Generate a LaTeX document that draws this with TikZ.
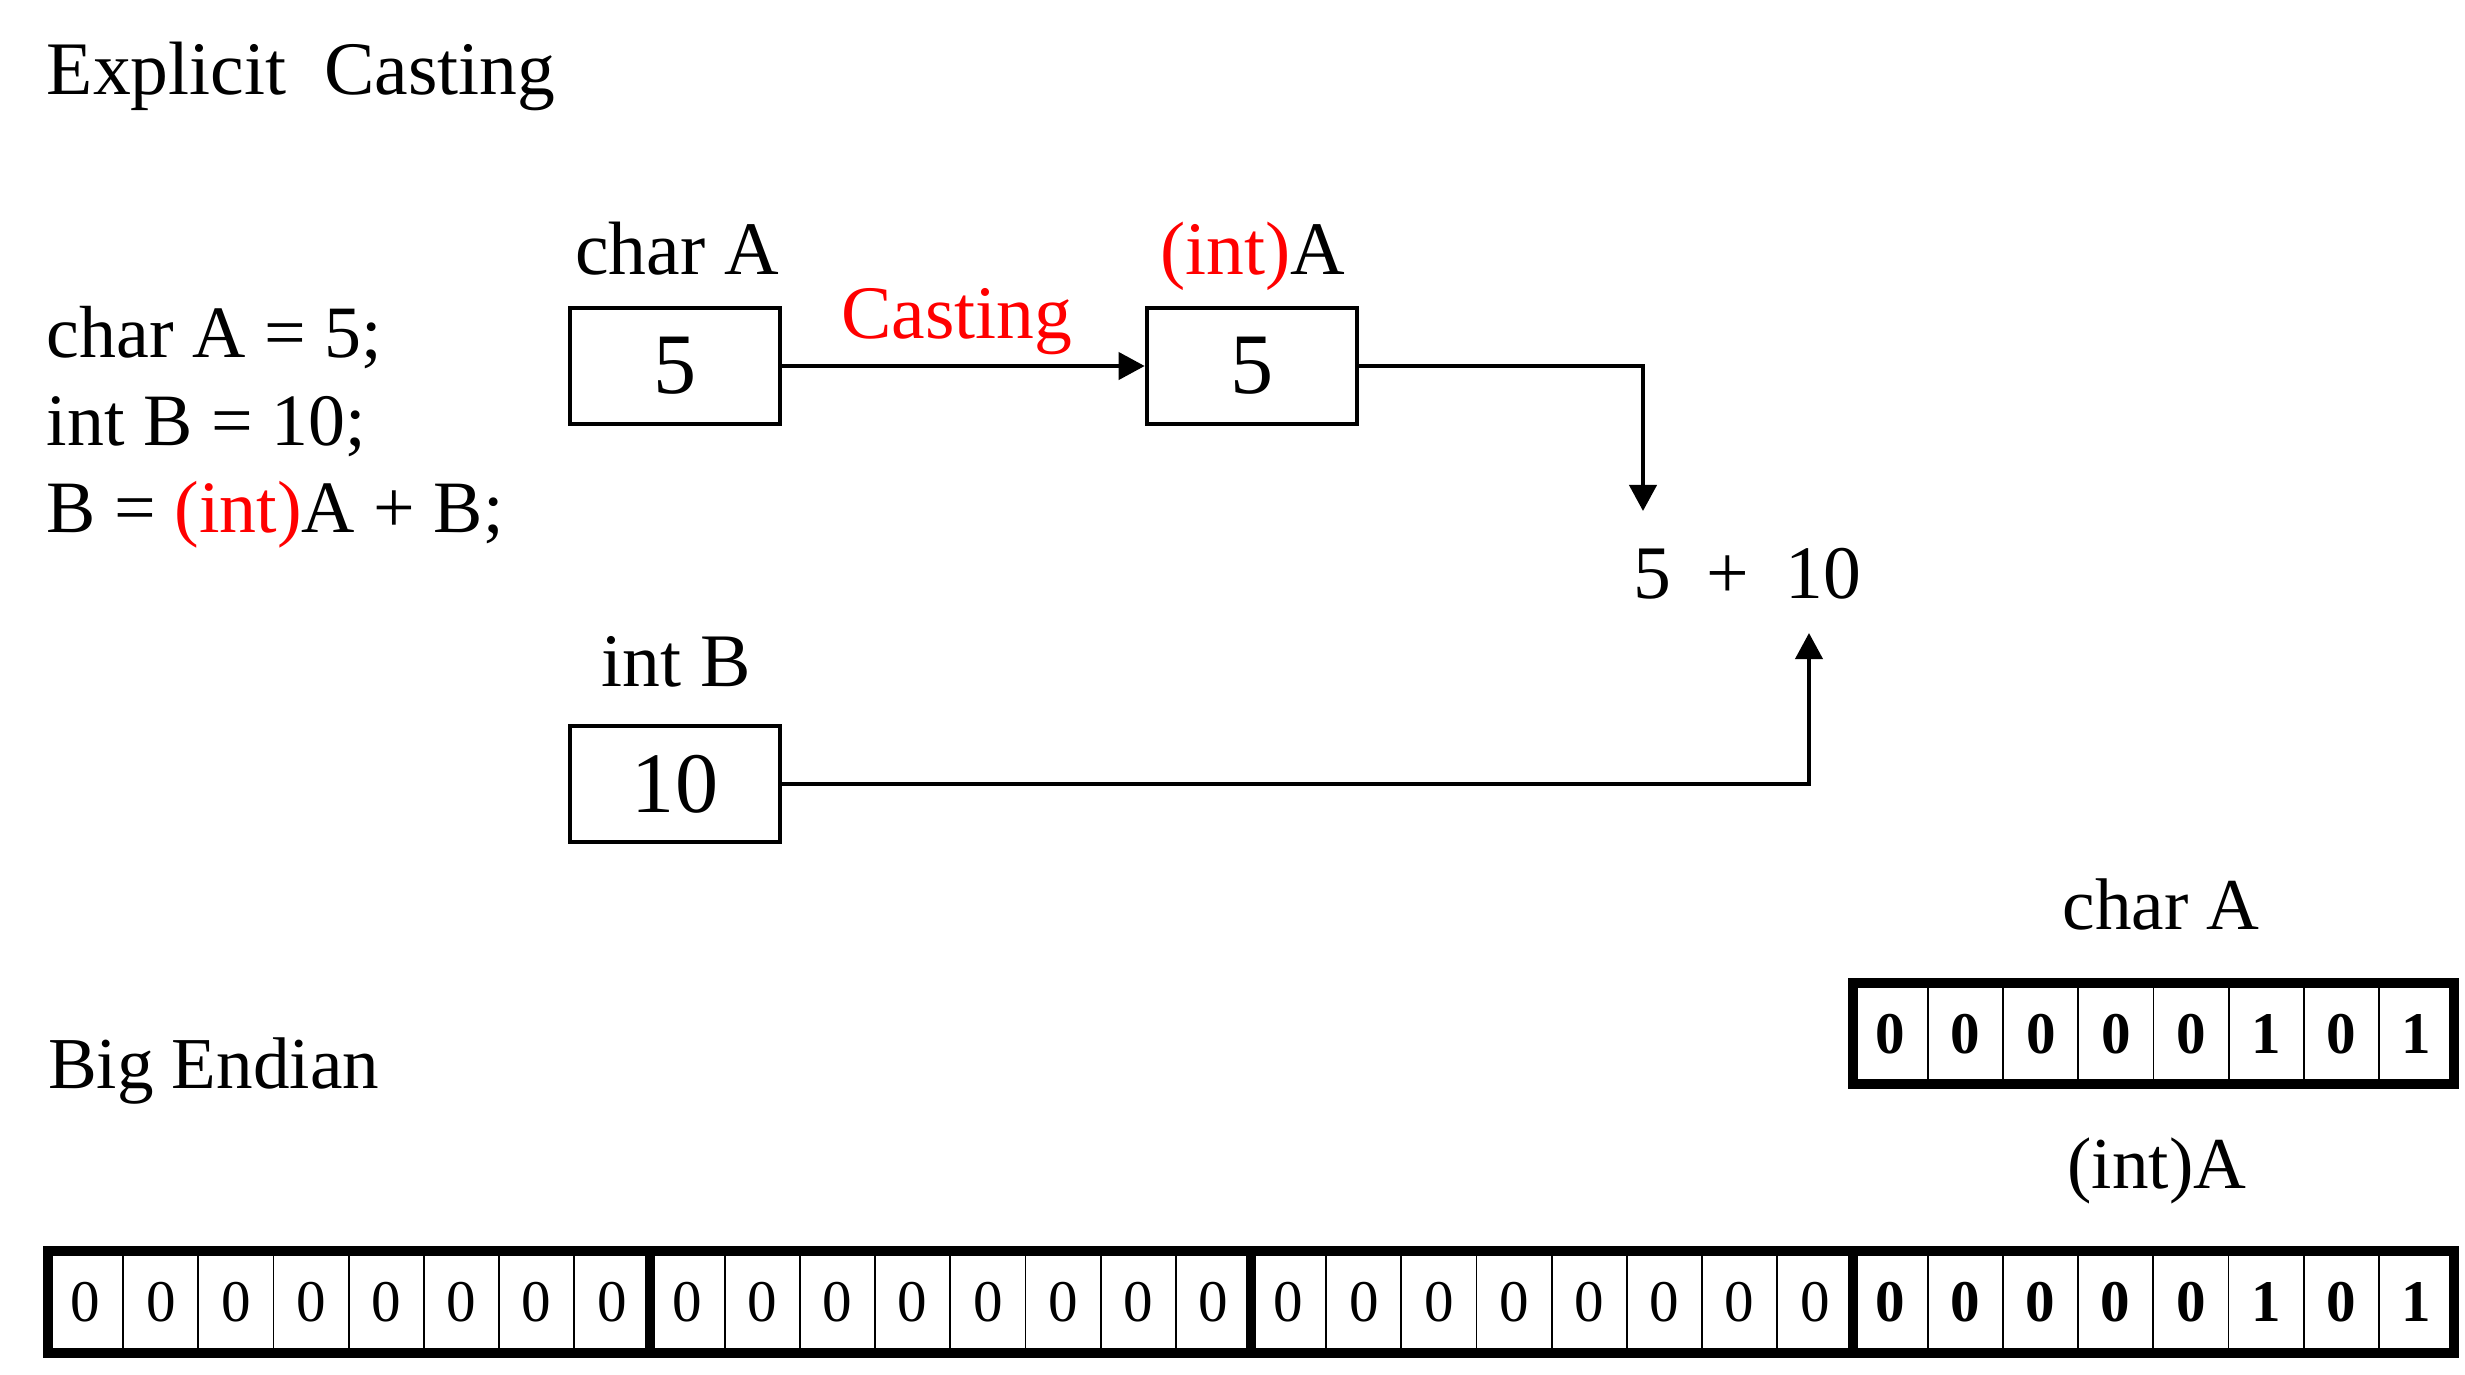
\documentclass[tikz,border=0pt]{standalone}
\usepackage{fontspec}
\setmainfont{Liberation Serif}
\usetikzlibrary{arrows.meta}
\definecolor{castred}{RGB}{255,0,0}
\begin{document}
\begin{tikzpicture}[x=0.01cm,y=-0.01cm,
  txt/.style={inner sep=0,outer sep=0,font=\fontsize{21.5pt}{26pt}\selectfont},
  codetxt/.style={inner sep=0,outer sep=0,font=\fontsize{21pt}{26pt}\selectfont},
  smalltxt/.style={inner sep=0,outer sep=0,font=\fontsize{20.8pt}{25pt}\selectfont},
  valbox/.style={draw,line width=0.045cm,minimum width=2.1cm,minimum height=1.16cm,inner sep=0,font=\fontsize{24.5pt}{28pt}\selectfont},
  conn/.style={line width=0.04cm,-{Triangle[length=0.26cm,width=0.27cm]}},
  bitreg/.style={inner sep=0,outer sep=0,font=\fontsize{16.8pt}{18pt}\selectfont},
  bitbold/.style={inner sep=0,outer sep=0,font=\fontsize{16.8pt}{18pt}\selectfont\bfseries},
  thinsep/.style={line width=0.018cm,black},
  thicksep/.style={line width=0.1cm,black}
]
\useasboundingbox (0,0) rectangle (2465,1375);

% titles and code
\node[txt,anchor=base west] (title) at (47,94) {Explicit\ \ Casting};
\node[codetxt,anchor=base west] (code1) at (47,357) {char A = 5;};
\node[codetxt,anchor=base west] (code2) at (47,445) {int B = 10;};
\node[codetxt,anchor=base west] (code3) at (47,532) {B = \textcolor{castred}{(int)}A + B;};

% value boxes
\node[valbox] (cA) at (675,366) {5};
\node[valbox] (iA) at (1252,366) {5};
\node[valbox] (iB) at (675,784) {10};

\node[txt,anchor=base] (lcA) at (677,274) {char A};
\node[txt,anchor=base] (liA) at (1253,274) {\textcolor{castred}{(int)}A};
\node[txt,anchor=base] (liB) at (676,686) {int B};
\node[txt,anchor=base,text=castred] (cast) at (957,338) {Casting};

\node[txt,anchor=base west] (sum) at (1633,598) {5\hspace{0.36cm}+\hspace{0.36cm}10};

\coordinate (t1) at (1643,511);
\coordinate (t2) at (1809,633);
\draw[conn] (cA.east) -- (iA.west);
\draw[conn] (iA.east) -| (t1);
\draw[conn] (iB.east) -| (t2);

% Big Endian
\node[smalltxt,anchor=base west] (big) at (48,1088) {Big Endian};
\node[smalltxt,anchor=base] (lcA2) at (2161,929) {char A};
\node[smalltxt,anchor=base] (liA2) at (2157,1188) {(int)A};

% char A byte
\foreach \k in {1,...,7}
  \draw[thinsep] ({1853+\k*75.125},983) -- ({1853+\k*75.125},1084);
\draw[thicksep] (1853,983) rectangle (2454,1084);
\foreach \v [count=\i] in {0,0,0,0,0,1,0,1}
  \node[bitbold] (c\i) at ({1853+(\i-0.5)*75.125},1034) {\v};

% int bytes
\foreach \k in {1,...,31}
  \draw[thinsep] ({48+\k*75.1875},1251) -- ({48+\k*75.1875},1353);
\foreach \k in {8,16,24}
  \draw[thicksep] ({48+\k*75.1875},1251) -- ({48+\k*75.1875},1353);
\draw[thicksep] (48,1251) rectangle (2454,1353);
\foreach \i in {1,...,24}
  \node[bitreg] (r\i) at ({48+(\i-0.5)*75.1875},1302) {0};
\foreach \v [count=\i from 25] in {0,0,0,0,0,1,0,1}
  \node[bitbold] (r\i) at ({48+(\i-0.5)*75.1875},1302) {\v};
\end{tikzpicture}
\end{document}
